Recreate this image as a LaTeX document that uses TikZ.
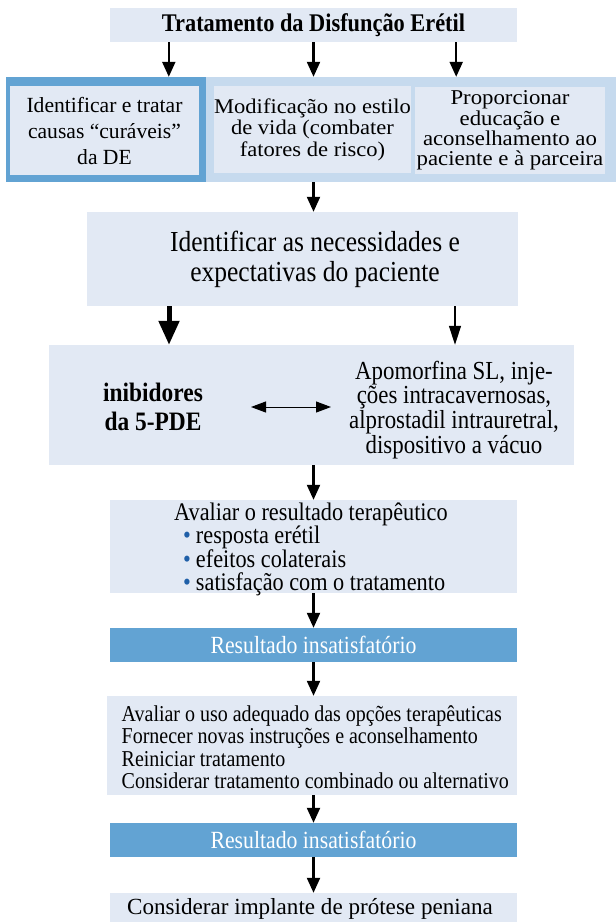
\documentclass[tikz,border=0pt]{standalone}
\usepackage{fontspec}
\setmainfont{Liberation Serif}[FakeStretch=0.88]
\newfontfamily\plainserif{Liberation Serif}
\newfontfamily\wideserif{Liberation Serif}[FakeStretch=1.08]
\usetikzlibrary{arrows.meta}
\definecolor{lightfill}{HTML}{E2E9F4}
\definecolor{darkblue}{HTML}{62A3D3}
\definecolor{midblue}{HTML}{C6DAEE}
\definecolor{bulletblue}{HTML}{1F5FA8}
\begin{document}
\begin{tikzpicture}[x=1pt,y=-1pt,
  box/.style={fill=lightfill, inner sep=0pt, align=center},
  band/.style={inner sep=0pt},
  txt/.style={inner sep=0pt, align=center},
  arr/.style={-{Triangle[length=15pt,width=13pt]}, line width=2.2pt},
  thickarr/.style={-{Triangle[length=24pt,width=20pt]}, line width=5pt},
  thinarr/.style={-{Triangle[length=19pt,width=12pt]}, line width=1.2pt},
  dblarr/.style={{Triangle[length=15pt,width=11pt]}-{Triangle[length=15pt,width=11pt]}, line width=1pt},
  fres/.style={font=\fontsize{24.7}{22}\selectfont},
]
\useasboundingbox (0,0) rectangle (616,922);
\fill[white] (0,0) rectangle (616,922);

% title
\node[box, minimum width=407pt, minimum height=34pt, font=\bfseries\fontsize{25.4}{22}\selectfont] (title) at (313.5,25) {Tratamento da Disfunção Erétil};

% band
\node[band, fill=darkblue, minimum width=200pt, minimum height=105pt] (bandL) at (106,129.5) {};
\node[band, fill=midblue, minimum width=410pt, minimum height=105pt] (bandR) at (411,129.5) {};
\node[box, minimum width=189pt, minimum height=89pt, font=\plainserif\fontsize{21.6}{26}\selectfont] (b1) at (104.5,130.5) {Identificar e tratar\\causas “curáveis”\\da DE};
\node[box, minimum width=195pt, minimum height=87pt, font=\wideserif\fontsize{20.9}{21.5}\selectfont] (b2) at (312.5,129.5) {Modificação no estilo\\de vida (combater\\fatores de risco)};
\node[box, minimum width=190pt, minimum height=87pt, font=\wideserif\fontsize{21.1}{20.3}\selectfont] (b3) at (510,130.5) {Proporcionar\\educação e\\aconselhamento ao\\paciente e à parceira};

\draw[arr] ([xshift=59pt]title.south west) -- ([xshift=59pt]title.south west |- bandL.north);
\draw[arr] (title.south) -- (title.south |- bandR.north);
\draw[arr] ([xshift=-61pt]title.south east) -- ([xshift=-61pt]title.south east |- bandR.north);

% big box
\node[box, minimum width=431pt, minimum height=94pt] (big) at (302.5,259) {};
\node[txt, font=\fontsize{29}{30}\selectfont] (bigt) at (315,259) {Identificar as necessidades e\\expectativas do paciente};
\draw[arr] (bandR.south -| title.south) -- (big.north -| title.south);

% options box
\node[box, minimum width=525pt, minimum height=120pt] (opt) at (311.5,405) {};
\node[txt, font=\bfseries\fontsize{26.6}{29}\selectfont] (inib) at (153,407) {inibidores\\da 5-PDE};
\node[txt, font=\fontsize{26}{22}\selectfont] (alt) at (454,410) {Apomorfina SL, inje-\\ções intracavernosas,\\alprostadil intrauretral,\\dispositivo a vácuo};
\coordinate (dl) at (251,407);
\coordinate (dr) at (331,407);
\draw[dblarr] (dl) -- (dr);
\draw[thickarr] ([xshift=-133.5pt]big.south) -- ([xshift=-133.5pt]big.south |- opt.north);
\draw[thinarr] ([xshift=152.5pt]big.south) -- ([xshift=152.5pt]big.south |- opt.north);

% evaluate box
\node[box, minimum width=407pt, minimum height=93pt] (eval) at (313.5,546.5) {};
\node[txt, anchor=west, align=left, font=\fontsize{25.3}{23}\selectfont] (evalt) at (174,549) {Avaliar o resultado terapêutico\\
\hspace{9pt}{\color{bulletblue}•}\hspace{5pt}resposta erétil\\
\hspace{9pt}{\color{bulletblue}•}\hspace{5pt}efeitos colaterais\\
\hspace{9pt}{\color{bulletblue}•}\hspace{5pt}satisfação com o tratamento};
\draw[arr] (opt.south -| title.south) -- (eval.north -| title.south);

% result 1
\node[box, fill=darkblue, text=white, minimum width=407pt, minimum height=34pt, fres] (r1) at (313.5,645) {Resultado insatisfatório};
\draw[arr] (eval.south -| title.south) -- (r1.north -| title.south);

% actions box
\node[box, minimum width=410pt, minimum height=99pt] (act) at (312,745.5) {};
\node[txt, anchor=west, align=left, font=\fontsize{22.7}{22.5}\selectfont] (actt) at (121.5,747) {Avaliar o uso adequado das opções terapêuticas\\Fornecer novas instruções e aconselhamento\\Reiniciar tratamento\\Considerar tratamento combinado ou alternativo};
\draw[arr] (r1.south -| title.south) -- (act.north -| title.south);

% result 2
\node[box, fill=darkblue, text=white, minimum width=407pt, minimum height=34pt, fres] (r2) at (313.5,840) {Resultado insatisfatório};
\draw[arr] (act.south -| title.south) -- (r2.north -| title.south);

% last box
\node[box, minimum width=407pt, minimum height=29pt] (last) at (313.5,907.5) {};
\node[txt, anchor=base, font=\plainserif\fontsize{23.1}{24}\selectfont] (lastt) at (310,914) {Considerar implante de prótese peniana};
\draw[arr] (r2.south -| title.south) -- (last.north -| title.south);
\end{tikzpicture}
\end{document}
